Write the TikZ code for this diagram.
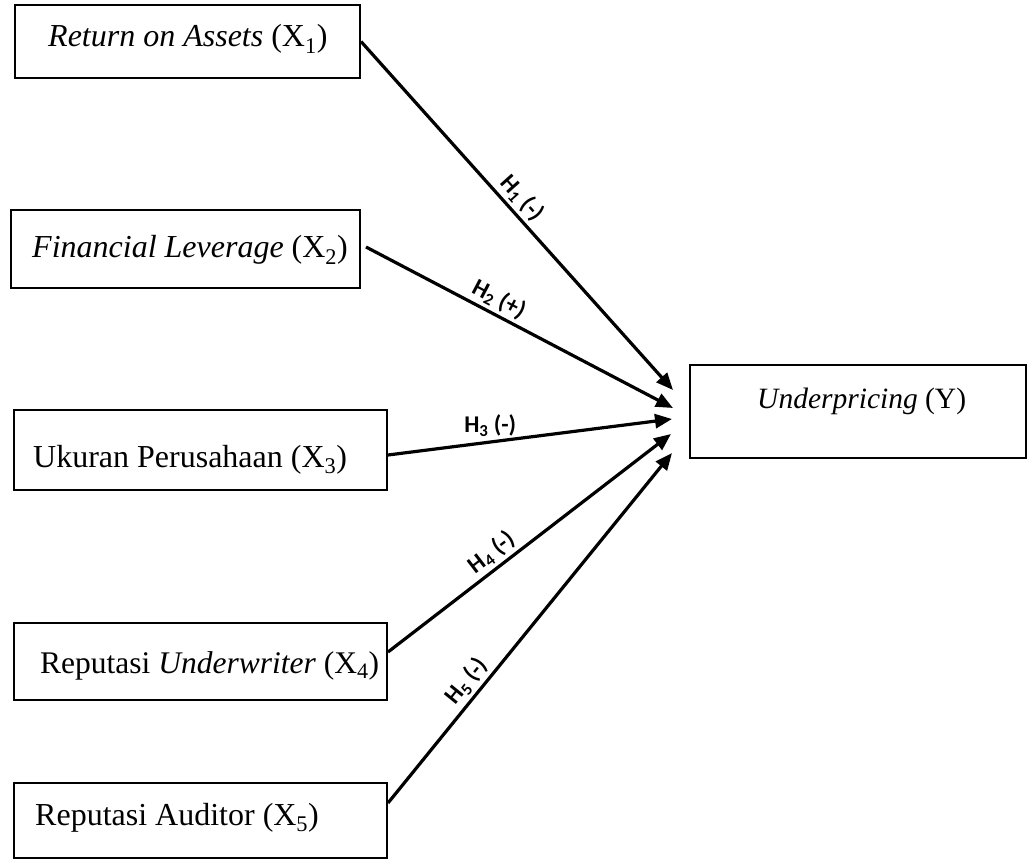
\documentclass[tikz,border=0pt]{standalone}
\usepackage{fontspec}
\setmainfont{Liberation Serif}
\newfontfamily\hfont{Carlito}
\usetikzlibrary{arrows.meta,calc}
\begin{document}
\begin{tikzpicture}[x=1pt,y=-1pt,
  box/.style={draw, line width=2pt, rectangle, inner sep=0pt},
  btext/.style={anchor=base west, inner sep=0pt, font=\fontsize{32}{38}\selectfont},
  link/.style={line width=3.2pt, -{Triangle[length=17pt,width=14pt]}},
  hlab/.style={font=\hfont\bfseries\fontsize{24}{27}\selectfont, inner sep=3pt}]
\useasboundingbox (0,0) rectangle (1029,861);
% boxes
\node[box, minimum width=345pt, minimum height=73pt] (x1) at (187.5,41.5) {};
\node[box, minimum width=349pt, minimum height=78pt] (x2) at (185.5,249) {};
\node[box, minimum width=373pt, minimum height=80pt] (x3) at (200.5,450) {};
\node[box, minimum width=373pt, minimum height=77pt] (x4) at (200.5,661.5) {};
\node[box, minimum width=373pt, minimum height=75pt] (x5) at (200.5,820.5) {};
\node[box, minimum width=336pt, minimum height=93pt] (y) at (858,411.5) {};
% texts
\node[btext] (tx1) at (48,47) {\textit{Return on Assets} (X\textsubscript{1})};
\node[btext] (tx2) at (32,258) {\textit{Financial Leverage} (X\textsubscript{2})};
\node[btext] (tx3) at (33,467) {Ukuran Perusahaan (X\textsubscript{3})};
\node[btext, font=\fontsize{31.5}{38}\selectfont] (tx4) at (40,673) {Reputasi \textit{Underwriter} (X\textsubscript{4})};
\node[btext] (tx5) at (35,825) {Reputasi Auditor (X\textsubscript{5})};
\node[btext, font=\fontsize{29.5}{36}\selectfont] (ty) at (757,408) {\textit{Underpricing} (Y)};
% arrow tips
\coordinate (e1) at (673,390);
\coordinate (e2) at (673,408);
\coordinate (e3) at (672,419);
\coordinate (e4) at (671,434);
\coordinate (e5) at (672,453);
% connectors
\draw[link] (x1.east) -- node[hlab, sloped, above, pos=0.48] {H\textsubscript{1} (-)} (e1);
\draw[link] ($(x2.east)+(5,-2)$) -- node[hlab, sloped, above, pos=0.41] {H\textsubscript{2} (+)} (e2);
\draw[link] ($(x3.east)+(0,5)$) -- node[hlab, above, pos=0.36, yshift=1pt] {H\textsubscript{3} (-)} (e3);
\draw[link] ($(x4.east)+(0,-9.5)$) -- node[hlab, sloped, above, pos=0.4] {H\textsubscript{4} (-)} (e4);
\draw[link] ($(x5.east)+(0,-17.5)$) -- node[hlab, sloped, above, pos=0.32] {H\textsubscript{5} (-)} (e5);
\end{tikzpicture}
\end{document}
